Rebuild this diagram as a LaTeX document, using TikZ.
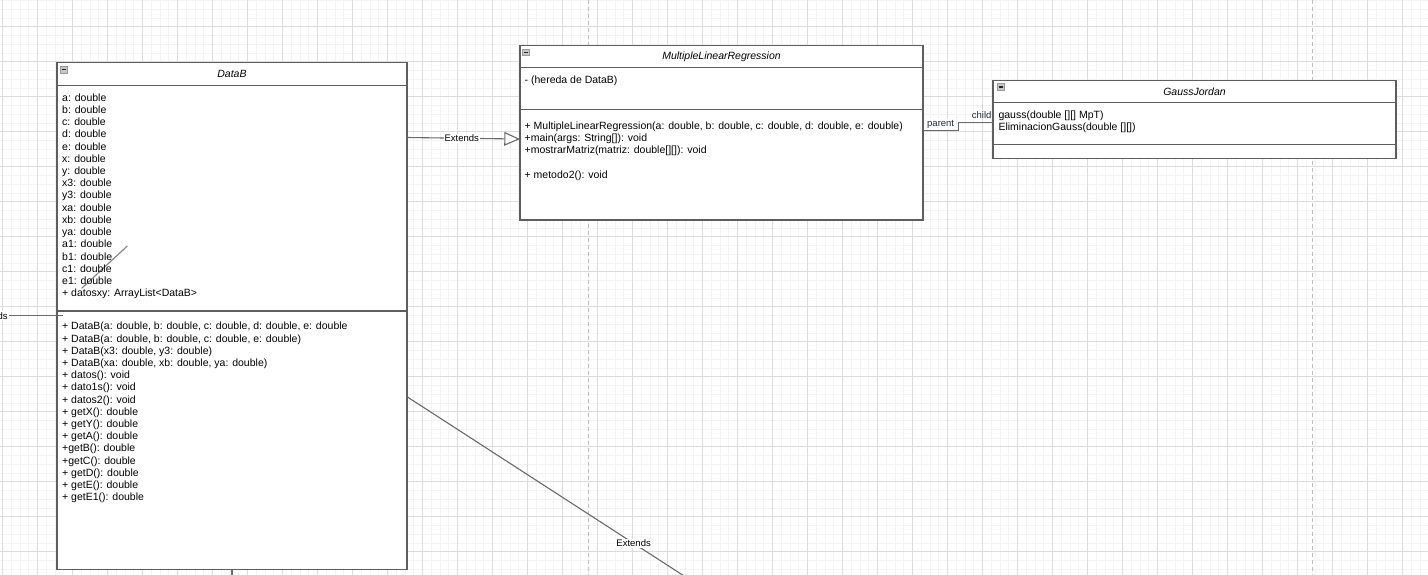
\documentclass[tikz,border=0pt]{standalone}
\usepackage{fontspec}
\setmainfont{Liberation Sans}
\usetikzlibrary{arrows.meta}
\definecolor{gridminor}{HTML}{F3F3F3}
\definecolor{gridmajor}{HTML}{DCDCDC}
\definecolor{pageline}{HTML}{BDBDBD}
\definecolor{boxline}{HTML}{5E5E5E}
\definecolor{conn}{HTML}{6A6A6A}
\definecolor{iconfill}{HTML}{C6C6C6}
\definecolor{iconline}{HTML}{9A9A9A}
\definecolor{lbltext}{HTML}{1E2A3A}
\begin{document}
\begin{tikzpicture}[x=1pt,y=-1pt,
  classbox/.style={draw=boxline, line width=1.2pt, fill=white, rectangle, anchor=north west, inner sep=0pt, outer sep=0pt},
  sepline/.style={draw=boxline, line width=1.2pt},
  txt/.style={anchor=base west, inner sep=0pt, font=\fontsize{10.5}{12.2}\selectfont},
  hdr/.style={anchor=base, inner sep=0pt, font=\fontsize{10.5}{12.2}\selectfont\itshape},
  conn/.style={draw=conn, line width=1.1pt},
  elabel/.style={fill=white, inner sep=1pt, font=\fontsize{9.5}{11}\selectfont},
  rlabel/.style={inner xsep=1pt, text=lbltext, font=\fontsize{9.5}{11}\selectfont},
  icon/.style={draw=iconline, fill=iconfill, line width=0.6pt, minimum size=6.5pt, inner sep=0pt,
    path picture={\draw[black!85, line width=1.3pt] ([xshift=1.2pt]path picture bounding box.west) -- ([xshift=-1.2pt]path picture bounding box.east);}}
]
\useasboundingbox (0,0) rectangle (1428,575);
\clip (0,0) rectangle (1428,575);
\fill[white] (0,0) rectangle (1428,575);
% grid
\foreach \i in {0,...,163} \draw[gridminor, line width=0.6pt] ({2.3+8.75*\i},0) -- ({2.3+8.75*\i},575);
\foreach \j in {0,...,66} \draw[gridminor, line width=0.6pt] (0,{0.45+8.75*\j}) -- (1428,{0.45+8.75*\j});
\foreach \i in {0,...,40} \draw[gridmajor, line width=0.8pt] ({2.3+35*\i},0) -- ({2.3+35*\i},575);
\foreach \j in {1,...,17} \draw[gridmajor, line width=0.8pt] (0,{-8.3+35*\j}) -- (1428,{-8.3+35*\j});
% page boundaries
\draw[pageline, line width=1pt, dash pattern=on 4pt off 3pt] (588.7,0) -- (588.7,575);
\draw[pageline, line width=1pt, dash pattern=on 4pt off 3pt] (1312.7,0) -- (1312.7,575);

% ---- classes ----
\node[classbox, minimum width=350pt, minimum height=507pt] (db) at (57,62.3) {};
\draw[sepline] (db.west |- 0,85.3) -- (db.east |- 0,85.3);
\draw[sepline] (db.west |- 0,311) -- (db.east |- 0,311);

\node[classbox, minimum width=403pt, minimum height=174.7pt] (mlr) at (520,45.3) {};
\draw[sepline] (mlr.west |- 0,67.7) -- (mlr.east |- 0,67.7);
\draw[sepline] (mlr.west |- 0,109.5) -- (mlr.east |- 0,109.5);

\node[classbox, minimum width=403pt, minimum height=78pt] (gj) at (993,80.7) {};
\draw[sepline] (gj.west |- 0,102.7) -- (gj.east |- 0,102.7);
\draw[sepline] (gj.west |- 0,144.3) -- (gj.east |- 0,144.3);

% icons
\node[icon] (dbi) at (63.8,69.7) {};
\node[icon] (mlri) at (526,52.3) {};
\node[icon] (gji) at (1000.7,87) {};

% headers
\node[hdr] (dbh) at (232,77.8) {DataB};
\node[hdr] (mlrh) at (721.5,59.8) {MultipleLinearRegression};
\node[hdr] (gjh) at (1194.5,95.1) {GaussJordan};

% ---- connectors ----
\draw[conn, -{Triangle[fill=white, length=15.7pt, width=13.7pt]}] ([yshift=178.3pt]db.east) -- node[elabel, pos=0.485] (ext1) {Extends} ([yshift=-6.4pt]mlr.west);

\coordinate (de) at (690.3,580);
\draw[conn] ([yshift=-80.9pt]db.east) -- node[elabel, pos=0.8] (ext2) {Extends} (de);

\coordinate (bs) at (232,590);
\draw[conn] (db.south) -- (bs);

\coordinate (ls) at (-40,315.7);
\coordinate (le) at (63,315.7);
\draw[conn] (ls) -- node[elabel, pos=0.295] (ext3) {Extends} (le);

\coordinate (s1) at (127.3,246);
\coordinate (s2) at (81.7,288.3);
\draw[conn, draw=gray] (s1) -- (s2);

\draw[conn] ([yshift=1.95pt]mlr.east) -- node[rlabel, fill=white, anchor=south, inner ysep=1.2pt, yshift=0.7pt] (par) {parent} ++(35.3,0) |- ([yshift=-2.6pt]gj.west) node[rlabel, anchor=south east, inner ysep=3pt] (chi) {child};

% ---- texts ----
\foreach \t [count=\i from 0] in {{a: double},{b: double},{c: double},{d: double},{e: double},{x: double},{y: double},{x3: double},{y3: double},{xa: double},{xb: double},{ya: double},{a1: double},{b1: double},{c1: double},{e1: double},{+ datosxy: ArrayList<DataB>}}
  \node[txt] (dba\i) at (62,{101.1+12.23*\i}) {\t};

\foreach \t [count=\i from 0] in {{+ DataB(a: double, b: double, c: double, d: double, e: double},{+ DataB(a: double, b: double, c: double, e: double)},{+ DataB(x3: double, y3: double)},{+ DataB(xa: double, xb: double, ya: double)},{+ datos(): void},{+ dato1s(): void},{+ datos2(): void},{+ getX(): double},{+ getY(): double},{+ getA(): double},{+getB(): double},{+getC(): double},{+ getD(): double},{+ getE(): double},{+ getE1(): double}}
  \node[txt] (dbm\i) at (62,{329.8+12.21*\i}) {\t};

\node[txt] (mlra0) at (524.5,83.8) {- (hereda de DataB)};
\node[txt] (mlrm0) at (524.5,129.5) {+ MultipleLinearRegression(a: double, b: double, c: double, d: double, e: double)};
\node[txt] (mlrm1) at (524.5,141.7) {+main(args: String[]): void};
\node[txt] (mlrm2) at (524.5,153.9) {+mostrarMatriz(matriz: double[][]): void};
\node[txt] (mlrm3) at (524.5,178.4) {+ metodo2(): void};

\node[txt] (gja0) at (998.3,118.1) {gauss(double [][] MpT)};
\node[txt] (gja1) at (998.3,130.4) {EliminacionGauss(double [][])};
\end{tikzpicture}
\end{document}
